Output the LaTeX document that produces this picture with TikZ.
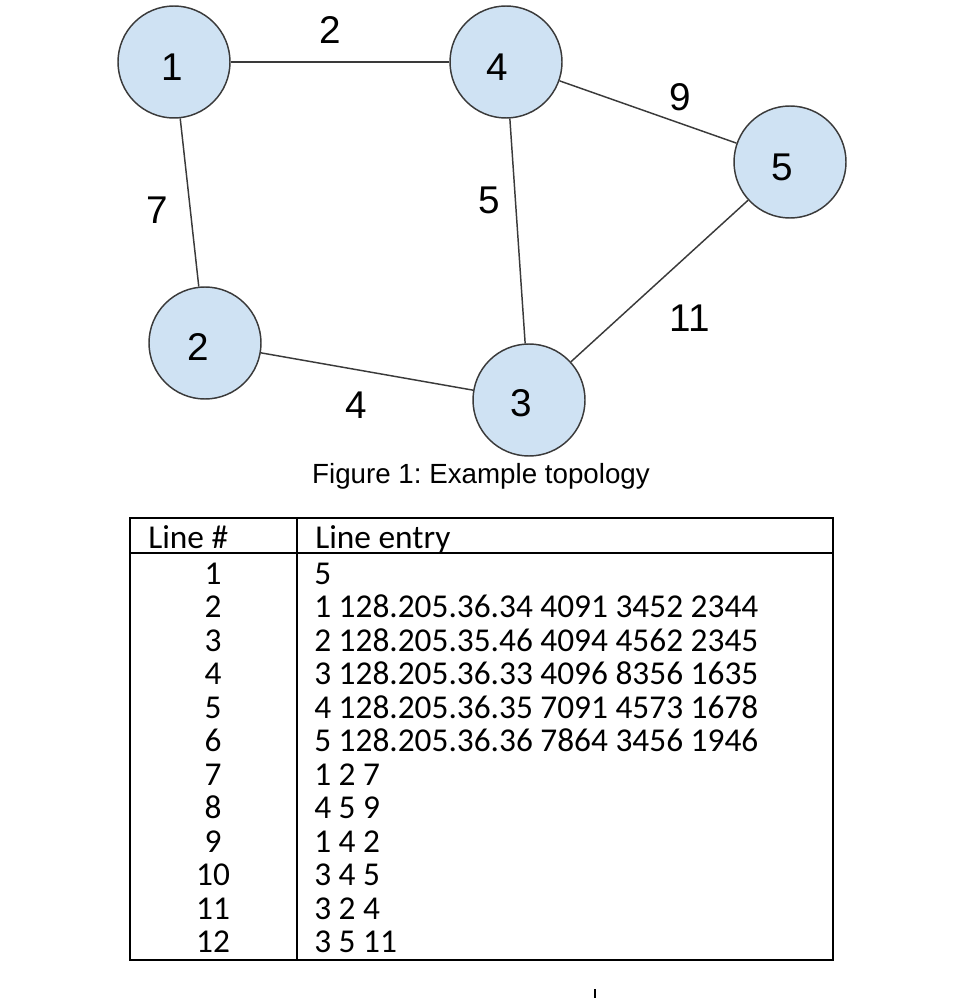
\documentclass[tikz,border=0pt]{standalone}
\usepackage{fontspec}
\newfontfamily\arialf{Liberation Sans}
\newfontfamily\tabf{Carlito}
\definecolor{nodefill}{HTML}{CFE2F3}
\definecolor{nodeline}{HTML}{3A3A3A}
\frenchspacing
\begin{document}
\begin{tikzpicture}[x=0.75pt,y=-0.75pt,
  vert/.style={circle,draw=nodeline,fill=nodefill,line width=1.1pt,minimum size=84pt,inner sep=0pt},
  vlabel/.style={font=\arialf\fontsize{29}{33}\selectfont,inner sep=0pt},
  edge/.style={draw=nodeline,line width=1.1pt},
  elabel/.style={font=\arialf\fontsize{29}{33}\selectfont,inner sep=0pt},
  tabtxt/.style={font=\tabf\fontsize{25}{30}\selectfont,inner sep=0pt},
  tabline/.style={line width=1.5pt}]
\useasboundingbox (0,0) rectangle (962,998);
% graph
\node[vert] (n1) at (174,62) {};
\node[vert] (n4) at (506,62) {};
\node[vert] (n5) at (790,162) {};
\node[vert] (n2) at (205,343) {};
\node[vert] (n3) at (529,400) {};
\node[vlabel] (t1) at (172,67) {1};
\node[vlabel] (t4) at (497,67) {4};
\node[vlabel] (t5) at (782,167) {5};
\node[vlabel] (t2) at (198,347) {2};
\node[vlabel] (t3) at (521,403) {3};
\draw[edge] (n1) -- (n4);
\draw[edge] (n1) -- (n2);
\draw[edge] (n4) -- (n3);
\draw[edge] (n4) -- (n5);
\draw[edge] (n2) -- (n3);
\draw[edge] (n3) -- (n5);
\node[elabel] (l2) at (330,30) {2};
\node[elabel] (l9) at (680,97) {9};
\node[elabel] (l7) at (157,210) {7};
\node[elabel] (l5) at (489,200) {5};
\node[elabel] (l11) at (690,318) {11};
\node[elabel] (l4) at (356,405) {4};
\node[font=\arialf\fontsize{20.8}{25}\selectfont,inner sep=0pt,anchor=base] (cap) at (481,483) {Figure 1: Example topology};
% table
\draw[tabline] (130,518) rectangle (833,960);
\draw[tabline] (130,553) -- (833,553);
\draw[tabline] (297,518) -- (297,960);
\node[tabtxt,anchor=base west] (h1) at (148,548) {Line \#};
\node[tabtxt,anchor=base west] (h2) at (315,548) {Line entry};
\foreach \i/\t [count=\k from 0] in {1/5,
  2/1 128.205.36.34 4091 3452 2344,
  3/2 128.205.35.46 4094 4562 2345,
  4/3 128.205.36.33 4096 8356 1635,
  5/4 128.205.36.35 7091 4573 1678,
  6/5 128.205.36.36 7864 3456 1946,
  7/1 2 7, 8/4 5 9, 9/1 4 2, 10/3 4 5, 11/3 2 4, 12/3 5 11}{
  \node[tabtxt,anchor=base] (r\i) at (213,584+\k*33.5) {\i};
  \node[tabtxt,anchor=base west] (e\i) at (314,584+\k*33.5) {\t};
}
\draw[line width=1.5pt] (595,989) -- (595,998);
\end{tikzpicture}
\end{document}
